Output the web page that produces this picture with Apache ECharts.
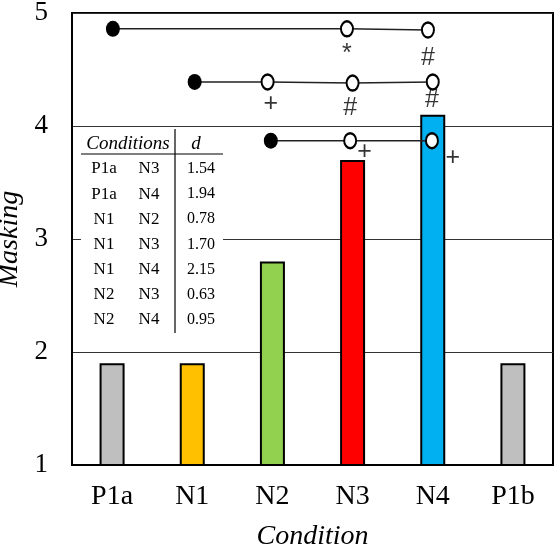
<!DOCTYPE html>
<html><head><meta charset="utf-8">
<script src="https://cdn.jsdelivr.net/npm/echarts@6/dist/echarts.min.js"></script>
<style>html,body{margin:0;padding:0;background:#fff}#c{width:558px;height:552px}</style>
</head><body><div id="c"></div>
<script>
var categories = ['P1a','N1','N2','N3','N4','P1b'];
var maskingValues = [1.90, 1.90, 2.80, 3.70, 4.10, 1.90];
var barColors = ['#bfbfbf','#ffc000','#92d050','#ff0000','#00b0f0','#bfbfbf'];
var yTicks = [1,2,3,4,5];

// significance rows: x positions (category index), y level
var row1X = [0.01, 2.93, 3.94]; var row1Y = [4.86, 4.86, 4.85];
var row2X = [1.03, 1.94, 3.00, 4.00]; var row2Y = [4.39, 4.39, 4.38, 4.39];
var row3X = [1.98, 2.97, 3.99]; var row3Y = [3.87, 3.87, 3.87];

var markText = ['*', '#', '+', '#', '#', '+', '+'];
var markX = [2.93, 3.94, 1.98, 2.97, 3.99, 3.15, 4.25];
var markY = [4.64, 4.60, 4.19, 4.16, 4.23, 3.77, 3.72];

var tableHeader = ['Conditions', 'd'];
var tableA = ['P1a','P1a','N1','N1','N1','N2','N2'];
var tableB = ['N3','N4','N2','N3','N4','N3','N4'];
var tableD = ['1.54','1.94','0.78','1.70','2.15','0.63','0.95'];

var serif = 'Liberation Serif';
var chart = echarts.init(document.getElementById('c'));

function rowSeries(xs, ys) {
  return {
    type: 'line', xAxisIndex: 1, yAxisIndex: 0, z: 5,
    lineStyle: { color: '#222', width: 1.5 },
    animation: false,
    data: xs.map(function (x, i) {
      return i === 0
        ? { value: [x, ys[i]], symbol: 'circle', symbolSize: [14, 16], itemStyle: { color: '#000', borderWidth: 0 } }
        : { value: [x, ys[i]], symbol: 'circle', symbolSize: [12, 15], itemStyle: { color: '#fff', borderColor: '#000', borderWidth: 2.2 } };
    })
  };
}

// table graphic
var tbl = [];
var tx0 = 81, tx1 = 223, ty0 = 128, ty1 = 336, vx = 175;
tbl.push({ type: 'rect', shape: { x: tx0, y: ty0, width: tx1 - tx0, height: ty1 - ty0 }, style: { fill: '#fff' }, z: 10 });
tbl.push({ type: 'line', shape: { x1: tx0, y1: 154, x2: tx1, y2: 154 }, style: { stroke: '#000', lineWidth: 1.2 }, z: 11 });
tbl.push({ type: 'line', shape: { x1: vx, y1: 129, x2: vx, y2: 333 }, style: { stroke: '#000', lineWidth: 1.2 }, z: 11 });
tbl.push({ type: 'text', x: 128, y: 144, style: { text: tableHeader[0], font: 'italic 19px "' + serif + '"', fill: '#000', textAlign: 'center', textVerticalAlign: 'middle' }, z: 12 });
tbl.push({ type: 'text', x: 196, y: 144, style: { text: tableHeader[1], font: 'italic 19px "' + serif + '"', fill: '#000', textAlign: 'center', textVerticalAlign: 'middle' }, z: 12 });
for (var i = 0; i < tableD.length; i++) {
  var yy = 169 + i * 25.1;
  tbl.push({ type: 'text', x: 104, y: yy, style: { text: tableA[i], font: '17px "' + serif + '"', fill: '#000', textAlign: 'center', textVerticalAlign: 'middle' }, z: 12 });
  tbl.push({ type: 'text', x: 149, y: yy, style: { text: tableB[i], font: '17px "' + serif + '"', fill: '#000', textAlign: 'center', textVerticalAlign: 'middle' }, z: 12 });
  tbl.push({ type: 'text', x: 201, y: yy, style: { text: tableD[i], font: '16px "' + serif + '"', fill: '#000', textAlign: 'center', textVerticalAlign: 'middle' }, z: 12 });
}

chart.setOption({
  animation: false,
  grid: { left: 72, right: 5, top: 13, bottom: 87, containLabel: false, outerBoundsMode: 'none',
    show: true, borderColor: '#000', borderWidth: 2, backgroundColor: 'transparent' },
  xAxis: [{
    type: 'category', data: categories,
    axisLine: { show: true, onZero: false, lineStyle: { color: '#000', width: 2 } },
    axisTick: { show: false },
    axisLabel: { color: '#000', fontFamily: serif, fontSize: 28, margin: 18 },
    name: 'Condition', nameLocation: 'middle', nameGap: 58,
    nameTextStyle: { color: '#000', fontFamily: serif, fontStyle: 'italic', fontSize: 28 }
  }, {
    type: 'value', min: -0.5, max: 5.5, show: false
  }],
  yAxis: [{
    type: 'value', min: 1, max: 5, interval: 1,
    axisLine: { show: true, onZero: false, lineStyle: { color: '#000', width: 2 } },
    axisTick: { show: false },
    axisLabel: { color: '#000', fontFamily: serif, fontSize: 27, margin: 24, formatter: function (v) { return yTicks.indexOf(v) >= 0 ? String(v) : ''; } },
    splitLine: { show: true, lineStyle: { color: '#333', width: 1 } },
    name: 'Masking', nameLocation: 'middle', nameGap: 42,
    nameTextStyle: { color: '#000', fontFamily: serif, fontStyle: 'italic', fontSize: 28 }
  }],
  series: [{
    type: 'bar', barWidth: 25, z: 2,
    data: maskingValues.map(function (v, i) { return { value: v, itemStyle: { color: barColors[i], borderColor: '#000', borderWidth: 2 } }; })
  },
  rowSeries(row1X, row1Y), rowSeries(row2X, row2Y), rowSeries(row3X, row3Y),
  {
    type: 'scatter', xAxisIndex: 1, z: 6, symbol: 'circle', symbolSize: 1,
    itemStyle: { color: 'rgba(0,0,0,0)' },
    label: { show: true, position: 'inside', color: '#000', fontFamily: 'Liberation Sans', fontSize: 25,
      formatter: function (p) { return markText[p.dataIndex]; } },
    data: markX.map(function (x, i) { return [x, markY[i]]; })
  }],
  graphic: tbl
});
</script></body></html>
